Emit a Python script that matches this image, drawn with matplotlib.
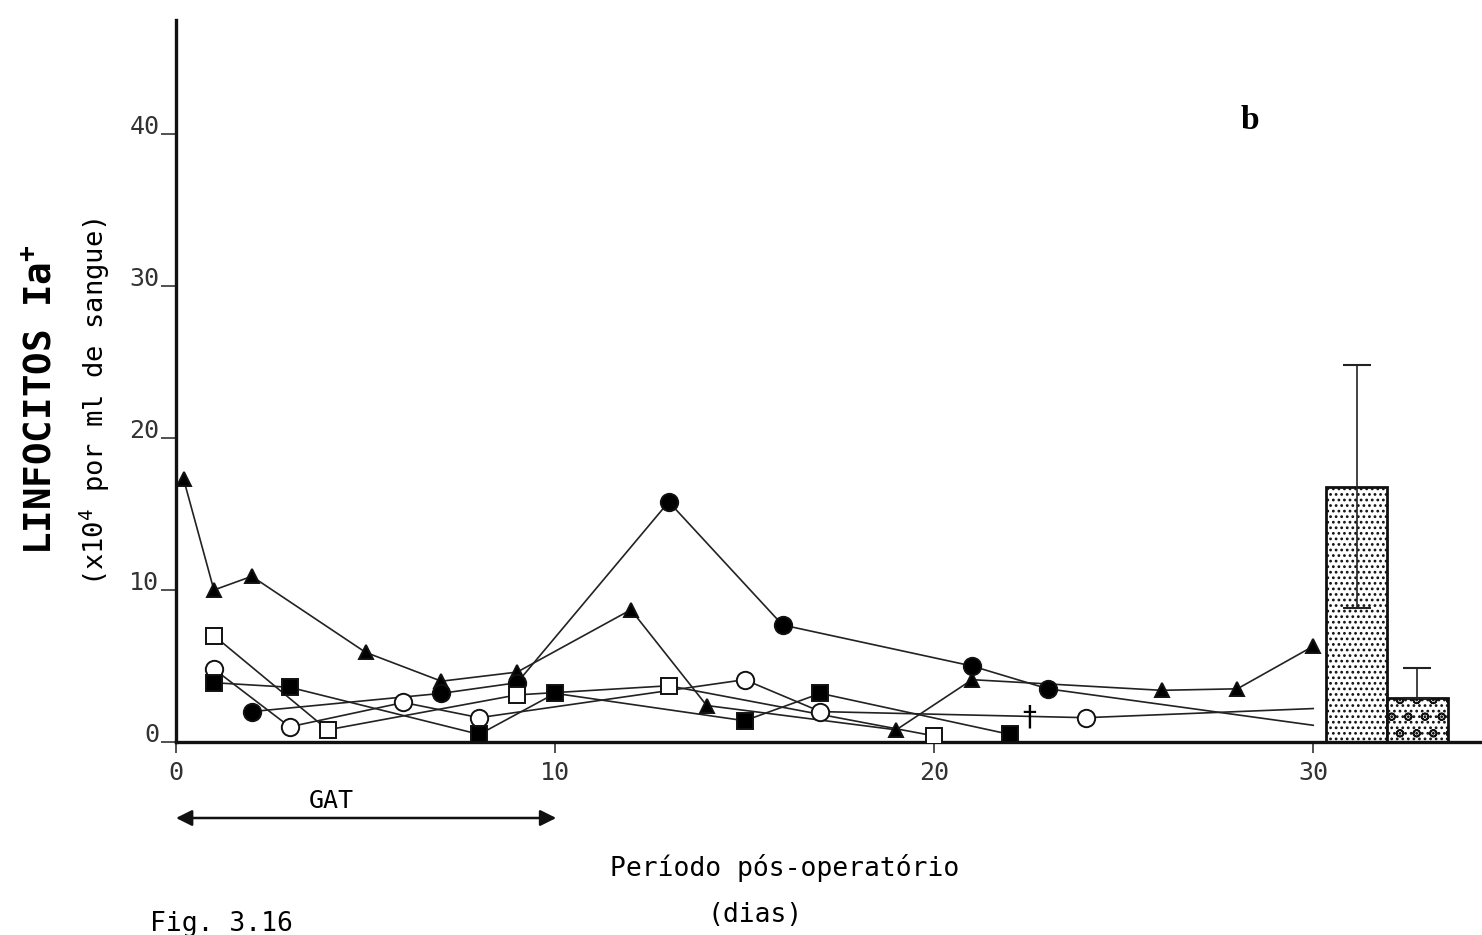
import numpy as np
import matplotlib.pyplot as plt

plt.rcParams['font.family'] = ['DejaVu Sans Mono', 'DejaVu Sans']
plt.rcParams['mathtext.default'] = 'regular'
plt.rcParams['hatch.linewidth'] = 1.2

# Ia+ lymphocytes (x10^4 per ml) by post-operative day, one list per patient
tri_x = [0.2, 1, 2, 5, 7, 9, 12, 14, 19, 21, 26, 28, 30]
tri_y = [17.3, 10.0, 10.9, 5.9, 4.0, 4.6, 8.7, 2.4, 0.8, 4.1, 3.4, 3.5, 6.3]
dot_x = [2, 7, 9, 13, 16, 21, 23, 30]
dot_y = [2.0, 3.2, 3.9, 15.8, 7.7, 5.0, 3.5, 1.1]
ring_x = [1, 3, 6, 8, 15, 17, 24, 30]
ring_y = [4.8, 1.0, 2.6, 1.6, 4.1, 2.0, 1.6, 2.2]
osq_x = [1, 4, 9, 13, 20]
osq_y = [7.0, 0.8, 3.1, 3.7, 0.4]
fsq_x = [1, 3, 8, 10, 15, 17, 22]
fsq_y = [3.9, 3.6, 0.5, 3.2, 1.4, 3.2, 0.5]
death_x, death_y = 22.5, 1.6

# reference bars (mean +/- sd)
bar_x = [31.15, 32.75]
bar_h = [16.8, 2.9]
bar_err_lo = [8.0, 0.0]
bar_err_hi = [8.0, 2.0]

yticks = [0, 10, 20, 30, 40]
xticks = [0, 10, 20, 30]

fig = plt.figure(figsize=(14.82, 9.35), dpi=100)
ax = fig.add_axes([176 / 1482, 1 - 742 / 935, (1480 - 176) / 1482, (742 - 20) / 935])
ax.set_xlim(0, 34.4)
ax.set_ylim(0, 47.5)

# x, y, marker, face, size, last point has no marker
series = [
    (tri_x, tri_y, '^', 'black', 10, False),
    (dot_x, dot_y, 'o', 'black', 12.5, True),
    (ring_x, ring_y, 'o', 'white', 12.5, True),
    (osq_x, osq_y, 's', 'white', 11.5, False),
    (fsq_x, fsq_y, 's', 'black', 11.5, False),
]
for x, y, mk, face, ms, tail in series:
    ax.plot(x, y, '-', color='#222222', lw=1.2, zorder=2)
    n = len(x) - 1 if tail else len(x)
    ax.plot(x[:n], y[:n], linestyle='none', marker=mk, ms=ms, mfc=face,
            mec='#111111', mew=1.4, zorder=3)

ax.text(death_x, death_y, '\u2020', fontsize=20, family='DejaVu Sans',
        ha='center', va='center', zorder=4)

bars = ax.bar(bar_x, bar_h, width=1.6, color='white', edgecolor='#111111',
              linewidth=2, zorder=2)
bars[0].set_hatch('...')
bars[1].set_hatch('...o')
ax.errorbar(bar_x, bar_h, yerr=[bar_err_lo, bar_err_hi], fmt='none',
            ecolor='#222222', elinewidth=1.2, capsize=10, capthick=1.5, zorder=3)

for s in ['top', 'right']:
    ax.spines[s].set_visible(False)
for s in ['left', 'bottom']:
    ax.spines[s].set_linewidth(2.4)
    ax.spines[s].set_color('#111111')

ax.set_yticks(yticks)
ax.set_xticks(xticks)
ax.tick_params(axis='y', direction='out', length=11, width=1.2, pad=1,
               labelsize=18, colors='#333333')
ax.tick_params(axis='x', direction='out', length=8, width=1.2, pad=6,
               labelsize=18, colors='#333333')
plt.setp(ax.get_yticklabels(), va='baseline')

ax.text(28.34, 40.9, 'b', fontsize=24, fontweight='bold', family='Liberation Serif',
        ha='center', va='center')

# GAT period arrow under the axis
ax.annotate('', xy=(0, -5.0), xytext=(10.03, -5.0),
            arrowprops=dict(arrowstyle='<|-|>', color='#111111', lw=1.8,
                            mutation_scale=24, shrinkA=0, shrinkB=0),
            annotation_clip=False)
ax.text(4.1, -3.9, 'GAT', fontsize=18, ha='center', va='center', clip_on=False)

fig.text(42 / 1482, 1 - 400 / 935, 'LINFOCITOS Ia$^{+}$', rotation=90,
         ha='center', va='center', fontsize=27, fontweight='semibold')
fig.text(95 / 1482, 1 - 402 / 935, '(x10$^{4}$ por ml de sangue)', rotation=90,
         ha='center', va='center', fontsize=19.5)
fig.text(785 / 1482, 1 - 868 / 935, 'Período pós-operatório',
         ha='center', va='center', fontsize=19)
fig.text(755 / 1482, 1 - 915 / 935, '(dias)', ha='center', va='center', fontsize=19)
fig.text(150 / 1482, 1 - 924 / 935, 'Fig. 3.16', ha='left', va='center', fontsize=19)

fig.savefig('out.png', dpi=100)
